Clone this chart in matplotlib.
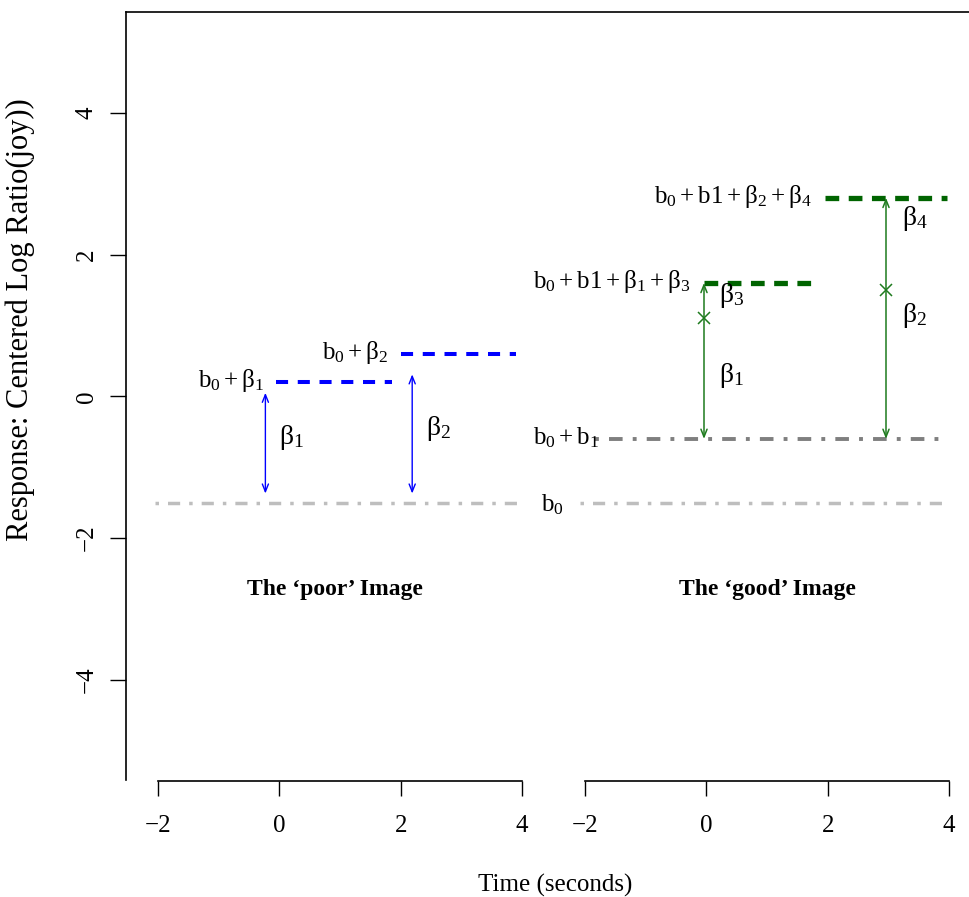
import numpy as np
import matplotlib.pyplot as plt

plt.rcParams['font.family'] = ['Liberation Serif', 'DejaVu Serif']
plt.rcParams['mathtext.fontset'] = 'custom'
plt.rcParams['mathtext.rm'] = 'Liberation Serif'
plt.rcParams['mathtext.it'] = 'Liberation Serif'
plt.rcParams['mathtext.bf'] = 'Liberation Serif:bold'

# ---- data (time in seconds, response in centered log ratio) ----
# 'poor' image
poor_base = -1.5
poor_base_span = [-2.05, 3.95]
poor_levels = [0.2, 0.6]
poor_spans = [[-0.05, 1.85], [2.0, 3.9]]
poor_level_labels = [r'$b_0 + \beta_1$', r'$b_0 + \beta_2$']
poor_arrow_x = [-0.23, 2.19]
poor_arrow_y = [[-1.37, 0.05], [-1.37, 0.31]]
poor_arrow_labels = [r'$\beta_1$', r'$\beta_2$']

# 'good' image
good_base = -1.5
good_base_span = [-2.05, 4.0]
good_b1 = -0.6
good_b1_span = [-1.8, 4.0]
good_levels = [1.6, 2.8]
good_spans = [[0.0, 1.85], [2.0, 4.0]]
good_level_labels = [r'$b_0 + b1 + \beta_1 + \beta_3$', r'$b_0 + b1 + \beta_2 + \beta_4$']
good_arrow_x = [0.0, 3.0]
good_arrow_y = [[-0.6, 1.6], [-0.6, 2.8]]
good_cross_y = [1.1, 1.5]
good_arrow_labels = [[r'$\beta_1$', r'$\beta_3$'], [r'$\beta_2$', r'$\beta_4$']]

x_ticks = [-2, 0, 2, 4]
y_ticks = [-4, -2, 0, 2, 4]

# right panel is drawn shifted along the shared x scale
shift = 7.0

W, H = 969, 897
fig = plt.figure(figsize=(W / 100, H / 100), dpi=100)

def px_box(x0, y0, x1, y1):
    return [x0 / W, 1 - y1 / H, (x1 - x0) / W, (y1 - y0) / H]

ax = fig.add_axes(px_box(126, 12, 969, 780))
unit = (522 - 158) / 6.0
ax.set_xlim(-2 - (158 - 126) / unit, -2 + (969 - 158) / unit)
ax.set_ylim(-5.41, 5.42)
for side in ['right', 'bottom']:
    ax.spines[side].set_visible(False)
ax.spines['left'].set_linewidth(1.2)
ax.spines['top'].set_linewidth(1.2)
ax.set_xticks([])
ax.set_yticks(y_ticks)
ax.set_yticklabels([str(v).replace('-', '\u2212') for v in y_ticks],
                   rotation=90, va='center', fontsize=18)
ax.tick_params(axis='y', direction='out', length=11.5, width=1.0, pad=9)

light_grey = '#bebebe'
dark_grey = '#7f7f7f'
blue = '#0000ff'
dkgreen = '#006400'
arrgreen = '#1e7b1e'
dotdash = (1, 2.6, 3.5, 2.6)

# baselines
ax.plot(poor_base_span, [poor_base, poor_base], color=light_grey, lw=2.5,
        dashes=dotdash, dash_capstyle='butt')
ax.plot(np.array(good_base_span) + shift, [good_base, good_base], color=light_grey,
        lw=2.5, dashes=dotdash, dash_capstyle='butt')
ax.plot(np.array(good_b1_span) + shift, [good_b1, good_b1], color=dark_grey,
        lw=2.8, dashes=dotdash, dash_capstyle='butt')

# poor image levels
for lvl, span, lab in zip(poor_levels, poor_spans, poor_level_labels):
    ax.plot(span, [lvl, lvl], color=blue, lw=2.9, dashes=(3.0, 2.4),
            dash_capstyle='butt')
    ax.text(span[0] - 0.2, lvl + 0.02, lab, ha='right', va='center', fontsize=18)

for x, (y0, y1), lab in zip(poor_arrow_x, poor_arrow_y, poor_arrow_labels):
    ax.annotate('', xy=(x, y1), xytext=(x, y0),
                arrowprops=dict(arrowstyle='<->,head_length=0.55,head_width=0.22',
                                color=blue, lw=1.0, shrinkA=0, shrinkB=0))
    ax.text(x + 0.22, (y0 + y1) / 2 + 0.08, lab, ha='left', va='center', fontsize=20)

# good image levels
for lvl, span, lab in zip(good_levels, good_spans, good_level_labels):
    ax.plot(np.array(span) + shift, [lvl, lvl], color=dkgreen, lw=3.8,
            dashes=(2.6, 1.8), dash_capstyle='butt')
    ax.text(span[0] + shift - 0.22, lvl + 0.02, lab, ha='right', va='center',
            fontsize=18)

for x, (y0, y1), yc, labs in zip(good_arrow_x, good_arrow_y, good_cross_y,
                                 good_arrow_labels):
    ax.annotate('', xy=(x + shift, y1), xytext=(x + shift, y0),
                arrowprops=dict(arrowstyle='<->,head_length=0.55,head_width=0.22',
                                color=arrgreen, lw=1.1, shrinkA=0, shrinkB=0))
    ax.plot([x + shift], [yc], marker='x', color=arrgreen, ms=8, mew=1.1)

ax.text(good_arrow_x[0] + shift + 0.25, 0.3, good_arrow_labels[0][0],
        ha='left', va='center', fontsize=20)
ax.text(good_arrow_x[0] + shift + 0.25, 1.42, good_arrow_labels[0][1],
        ha='left', va='center', fontsize=20)
ax.text(good_arrow_x[1] + shift + 0.27, 1.14, good_arrow_labels[1][0],
        ha='left', va='center', fontsize=20)
ax.text(good_arrow_x[1] + shift + 0.27, 2.51, good_arrow_labels[1][1],
        ha='left', va='center', fontsize=20)

ax.text(4.73, good_b1 + 0.02, r'$b_0 + b_1$', ha='center', va='center', fontsize=18)
ax.text(4.5, good_base - 0.03, r'$b_0$', ha='center', va='center', fontsize=18)

ax.text(0.91, -2.73, "The \u2018poor\u2019 Image", ha='center', va='center',
        fontsize=17, fontweight='bold')
ax.text(1.04 + shift, -2.73, "The \u2018good\u2019 Image", ha='center', va='center',
        fontsize=17, fontweight='bold')

# two separate time axes
for x0, x1 in [(158, 522), (585, 949)]:
    bx = fig.add_axes(px_box(x0, 780, x1, 781))
    bx.set_xlim(x_ticks[0], x_ticks[-1])
    bx.set_ylim(0, 1)
    bx.patch.set_visible(False)
    for side in ['left', 'right', 'top']:
        bx.spines[side].set_visible(False)
    bx.spines['bottom'].set_linewidth(1.2)
    bx.set_yticks([])
    bx.set_xticks(x_ticks)
    bx.set_xticklabels([str(v).replace('-', '\u2212') for v in x_ticks], fontsize=18)
    bx.tick_params(axis='x', direction='out', length=10.5, width=1.0, pad=14)

fig.text(555 / W, 1 - 885 / H, 'Time (seconds)', ha='center', va='center', fontsize=18)
fig.text(20 / W, 1 - 320 / H, 'Response: Centered Log Ratio(joy))', rotation=90,
         ha='center', va='center', fontsize=22)

fig.savefig('out.png', dpi=100)
